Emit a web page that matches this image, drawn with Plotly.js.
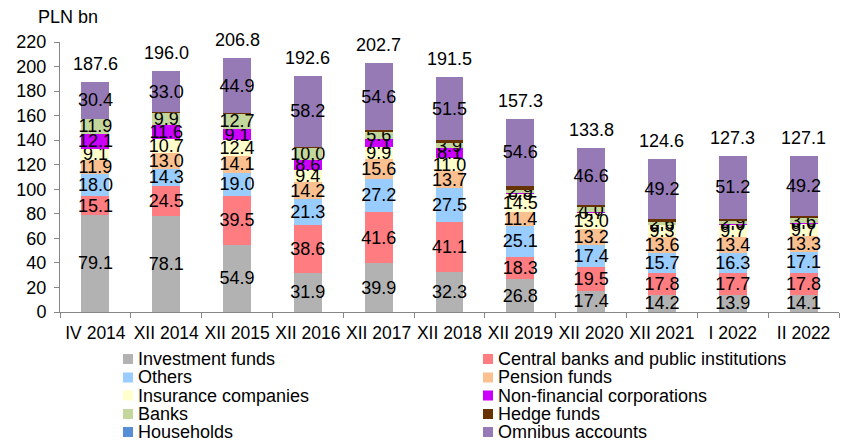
<!DOCTYPE html>
<html>
<head>
<meta charset="utf-8">
<script src="https://cdn.plot.ly/plotly-3.0.1.min.js"></script>
<style>html,body{margin:0;padding:0;background:#fff;}#chart{width:849px;height:445px;}</style>
</head>
<body>
<div id="chart"></div>
<script>
const categories = ['IV 2014','XII 2014','XII 2015','XII 2016','XII 2017','XII 2018','XII 2019','XII 2020','XII 2021','I 2022','II 2022'];
const investmentFunds = [79.1,78.1,54.9,31.9,39.9,32.3,26.8,17.4,14.2,13.9,14.1];
const centralBanks    = [15.1,24.5,39.5,38.6,41.6,41.1,18.3,19.5,17.8,17.7,17.8];
const others          = [18.0,14.3,19.0,21.3,27.2,27.5,25.1,17.4,15.7,16.3,17.1];
const pensionFunds    = [11.9,13.0,14.1,14.2,15.6,13.7,11.4,13.2,13.6,13.4,13.3];
const insurance       = [9.1,10.7,12.4,9.4,9.9,11.0,14.5,13.0,9.3,9.7,9.7];
const nonFinancial    = [12.1,11.6,9.1,8.6,7.1,8.1,0.8,0.7,0.5,0.6,0.6];
const banks           = [11.9,9.9,12.7,10.0,5.6,3.9,2.9,4.0,2.6,2.9,3.6];
const hedgeFunds      = [0,0.9,0.2,0.4,1.2,2.4,2.9,2.0,1.7,1.6,1.7];
const households      = [0,0,0,0,0,0,0,0,0,0,0];
const omnibus         = [30.4,33.0,44.9,58.2,54.6,51.5,54.6,46.6,49.2,51.2,49.2];
const totals          = [187.6,196.0,206.8,192.6,202.7,191.5,157.3,133.8,124.6,127.3,127.1];

const FONT = 'Arial, "Liberation Sans", sans-serif';

const series = [
  {name:'Investment funds', y:investmentFunds, color:'#b2b2b2', label:true},
  {name:'Central banks and public institutions', y:centralBanks, color:'#ff7c80', label:true},
  {name:'Others', y:others, color:'#99ccff', label:true},
  {name:'Pension funds', y:pensionFunds, color:'#fac090', label:true},
  {name:'Insurance companies', y:insurance, color:'#ffffcc', label:true},
  {name:'Non-financial corporations', y:nonFinancial, color:'#cc00ff', label:true},
  {name:'Banks', y:banks, color:'#c3d69b', label:true},
  {name:'Hedge funds', y:hedgeFunds, color:'#663300', label:false},
  {name:'Households', y:households, color:'#558ed5', label:false},
  {name:'Omnibus accounts', y:omnibus, color:'#957ab6', label:true}
];

const traces = series.map(s => ({
  type:'bar', name:s.name, x:categories, y:s.y,
  marker:{color:s.color},
  texttemplate: s.label ? '%{y:.1f}' : '',
  textposition: s.label ? 'inside' : 'none',
  insidetextanchor:'middle', textangle:0, constraintext:'none',
  textfont:{family:FONT, size:18, color:'#000'},
  cliponaxis:false, hoverinfo:'x+y+name'
}));

// layout geometry (pixels)
const W = 849, H = 445, ML = 60, MR = 10, MT = 42, MB = 133;
const pw = W - ML - MR, ph = H - MT - MB;
const px2x = p => (p - ML) / pw;
const py2y = p => (H - MB - p) / ph;

const annotations = categories.map((c,i) => ({
  x:c, y:totals[i], xref:'x', yref:'y', text:totals[i].toFixed(1),
  showarrow:false, yanchor:'bottom', yshift:6,
  font:{family:FONT, size:18, color:'#000'}
}));
annotations.push({
  xref:'paper', yref:'paper', x:px2x(68), y:py2y(17), text:'PLN bn', showarrow:false,
  xanchor:'center', yanchor:'middle', font:{family:FONT, size:18, color:'#000'}
});

const shapes = [];
const colSw = [123, 483], colTx = [136, 496];
const rowY = [359, 377.5, 395.5, 414, 432];
series.forEach((s,i) => {
  const col = i % 2, row = Math.floor(i / 2);
  const cy = rowY[row];
  shapes.push({type:'rect', xref:'paper', yref:'paper',
    x0:px2x(colSw[col]), x1:px2x(colSw[col]+10), y0:py2y(cy+5), y1:py2y(cy-5),
    fillcolor:s.color, line:{width:0}});
  annotations.push({xref:'paper', yref:'paper', x:px2x(colTx[col]), y:py2y(cy),
    text:s.name, showarrow:false, xanchor:'left', yanchor:'middle',
    font:{family:FONT, size:18, color:'#000'}});
});

const layout = {
  width:W, height:H,
  margin:{l:ML, r:MR, t:MT, b:MB, pad:0},
  paper_bgcolor:'#fff', plot_bgcolor:'#fff',
  barmode:'stack', bargap:0.606,
  showlegend:false,
  uniformtext:{mode:'show', minsize:18},
  font:{family:FONT, size:18, color:'#000'},
  xaxis:{type:'category', showgrid:false, showline:true, linecolor:'#868686', linewidth:1,
    ticks:'outside', tickson:'boundaries', ticklen:5, tickcolor:'#868686', tickangle:0,
    ticklabelstandoff:5,
    tickfont:{family:FONT, size:17.5, color:'#000'}, fixedrange:true, zeroline:false},
  yaxis:{range:[0,220], dtick:20, tick0:0, showgrid:false, showline:true, linecolor:'#868686', linewidth:1,
    ticks:'outside', ticklen:5, tickcolor:'#868686', zeroline:false, ticklabelstandoff:4,
    tickfont:{family:FONT, size:18, color:'#000'}, fixedrange:true},
  annotations:annotations, shapes:shapes
};

Plotly.newPlot('chart', traces, layout, {displayModeBar:false, staticPlot:true});
</script>
</body>
</html>
